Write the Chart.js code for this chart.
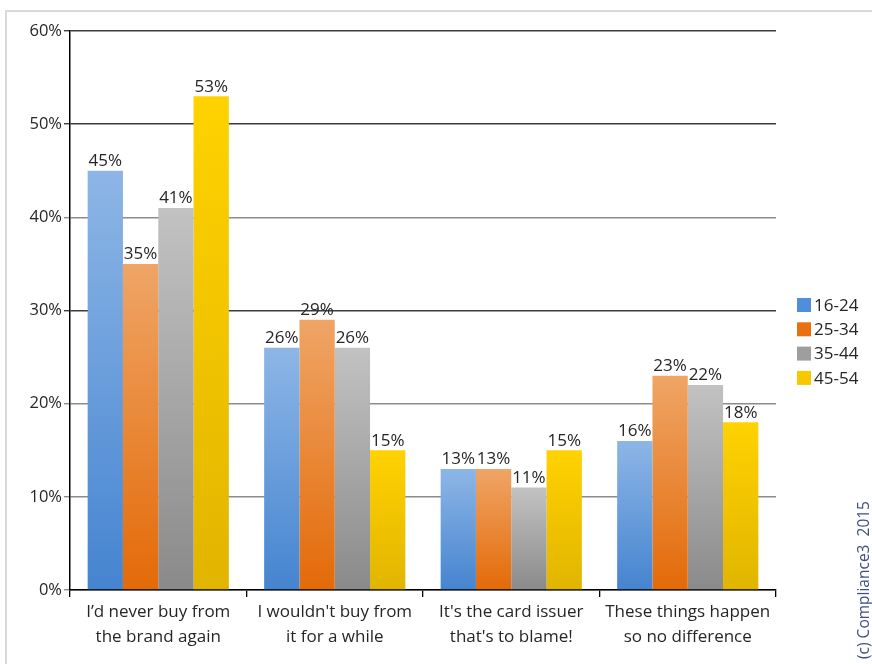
<!DOCTYPE html>
<html lang="en">
<head>
    <meta charset="UTF-8">
    <title>Card Fraud Reaction by Age</title>
    <style>
        * {
            margin: 0;
            padding: 0;
            box-sizing: border-box;
        }

        body {
            background: #ffffff;
            width: 872px;
            height: 664px;
            overflow: hidden;
            font-family: 'Open Sans', sans-serif;
        }

        .frame {
            position: absolute;
            left: 5px;
            top: 10px;
            width: 880px;
            height: 670px;
            border-left: 2px solid #d9d9d9;
            border-top: 2px solid #d9d9d9;
        }

        .chart-box {
            position: absolute;
            left: 0;
            top: 0;
            width: 872px;
            height: 664px;
        }
    </style>
</head>
<body>
    <div class="frame"></div>
    <div class="chart-box">
        <canvas id="fraudChart" width="872" height="664"></canvas>
    </div>

    <script src="https://cdn.jsdelivr.net/npm/chart.js"></script>
    <script>
        // Answers, split over two lines each
        const categories = [
            ["I\u2019d never buy from", "the brand again"],
            ["I wouldn't buy from", "it for a while"],
            ["It's the card issuer", "that's to blame!"],
            ["These things happen", "so no difference"]
        ];

        const ageGroups = ["16-24", "25-34", "35-44", "45-54"];

        // Percent of respondents per age group
        const age16to24 = [45, 26, 13, 16];
        const age25to34 = [35, 29, 13, 23];
        const age35to44 = [41, 26, 11, 22];
        const age45to54 = [53, 15, 15, 18];

        const yTicks = [0, 10, 20, 30, 40, 50, 60];

        // light top / dark bottom for each series
        const barShades = [
            ['#8db6e6', '#4584d0'],
            ['#efa566', '#e36a08'],
            ['#c2c2c2', '#8a8a8a'],
            ['#ffd200', '#e1b500']
        ];
        const legendColors = ['#4f8fda', '#e8700e', '#9e9e9e', '#f7c800'];

        function shadedBar(i) {
            return function (ctx) {
                const chart = ctx.chart;
                const y = chart.scales.y;
                if (!chart.chartArea || !y || ctx.raw === undefined) return barShades[i][1];
                const top = y.getPixelForValue(ctx.raw);
                const bottom = y.getPixelForValue(0);
                const g = chart.ctx.createLinearGradient(0, top, 0, bottom);
                g.addColorStop(0, barShades[i][0]);
                g.addColorStop(1, barShades[i][1]);
                return g;
            };
        }

        const seriesValues = [age16to24, age25to34, age35to44, age45to54];

        // value labels over each bar, legend and the side credit
        const extrasPlugin = {
            id: 'extras',
            afterDatasetsDraw(chart) {
                const ctx = chart.ctx;
                ctx.save();
                ctx.font = '17px "Open Sans"';
                ctx.fillStyle = '#262626';
                ctx.textAlign = 'center';
                ctx.textBaseline = 'bottom';
                chart.data.datasets.forEach((ds, di) => {
                    chart.getDatasetMeta(di).data.forEach((bar, i) => {
                        ctx.fillText(ds.data[i] + '%', bar.x, bar.y - 1);
                    });
                });
                ctx.restore();
            },
            afterDraw(chart) {
                const ctx = chart.ctx;
                ctx.save();
                ctx.font = '17px "Open Sans"';
                ctx.textBaseline = 'middle';
                ctx.textAlign = 'left';
                ageGroups.forEach((label, i) => {
                    const y = 305 + i * 24.3;
                    ctx.fillStyle = legendColors[i];
                    ctx.fillRect(797, y - 7, 14, 14);
                    ctx.fillStyle = '#262626';
                    ctx.fillText(label, 814, y + 1);
                });

                ctx.translate(865, 580);
                ctx.rotate(-Math.PI / 2);
                ctx.textAlign = 'center';
                ctx.textBaseline = 'middle';
                ctx.font = '15.5px "Open Sans"';
                ctx.fillStyle = '#3f4f86';
                ctx.fillText('(c) Compliance3  2015', 0, 0);
                ctx.restore();
            }
        };

        const chart = new Chart(document.getElementById('fraudChart'), {
            type: 'bar',
            data: {
                labels: categories,
                datasets: ageGroups.map((label, i) => ({
                    label: label,
                    data: seriesValues[i],
                    backgroundColor: shadedBar(i),
                    borderWidth: 0,
                    categoryPercentage: 0.8,
                    barPercentage: 1.0
                }))
            },
            options: {
                responsive: false,
                animation: false,
                layout: {
                    padding: { left: 5, top: 31, right: 96, bottom: 0 }
                },
                plugins: {
                    legend: { display: false },
                    tooltip: { enabled: false }
                },
                scales: {
                    x: {
                        afterFit(scale) { scale.height = 74; },
                        grid: {
                            offset: true,
                            drawOnChartArea: false,
                            drawTicks: true,
                            tickLength: 7,
                            tickColor: '#000000',
                            lineWidth: 1.3
                        },
                        border: { color: '#000000', width: 1.5 },
                        ticks: {
                            autoSkip: false,
                            maxRotation: 0,
                            minRotation: 0,
                            padding: 3,
                            color: '#262626',
                            font: { family: 'Open Sans', size: 17, lineHeight: 1.45 }
                        }
                    },
                    y: {
                        min: 0,
                        max: 60,
                        afterFit(scale) { scale.width = 65; },
                        afterBuildTicks(scale) {
                            scale.ticks = yTicks.map(v => ({ value: v }));
                        },
                        grid: {
                            color: ctx => [30, 50, 60].includes(ctx.tick.value) ? '#3c3c3c' : '#8c8c8c',
                            tickColor: ctx => [30, 50, 60].includes(ctx.tick.value) ? '#3c3c3c' : '#8c8c8c',
                            lineWidth: 1.4,
                            tickLength: 6
                        },
                        border: { color: '#000000', width: 1.5 },
                        ticks: {
                            padding: 2,
                            color: '#262626',
                            font: { family: 'Open Sans', size: 16.5 },
                            callback: v => v + '%'
                        }
                    }
                }
            },
            plugins: [extrasPlugin]
        });
    </script>
</body>
</html>
